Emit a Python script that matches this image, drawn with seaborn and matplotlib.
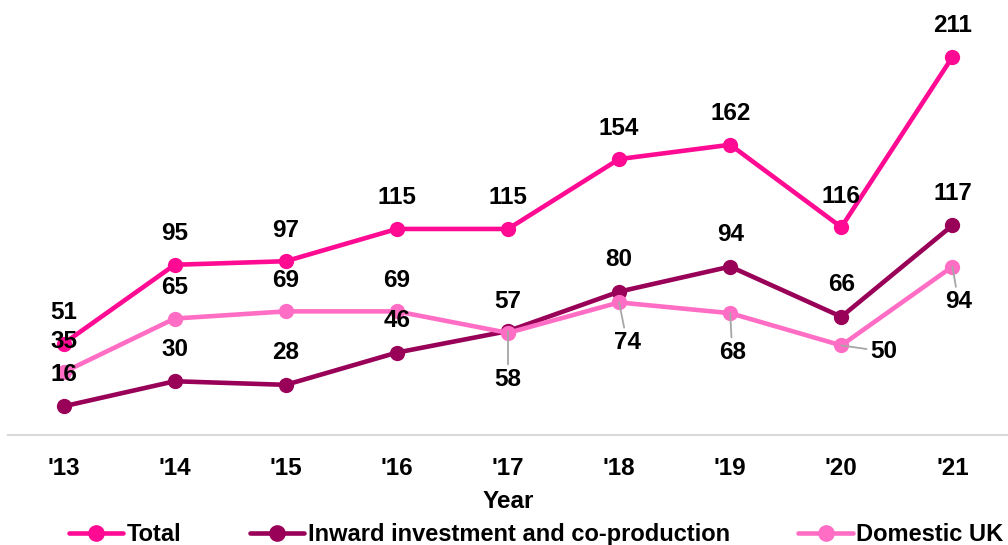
import pandas as pd
import matplotlib
matplotlib.use("Agg")
import matplotlib.pyplot as plt
import seaborn as sns

years = ["'13", "'14", "'15", "'16", "'17", "'18", "'19", "'20", "'21"]
total = [51, 95, 97, 115, 115, 154, 162, 116, 211]
inward = [16, 30, 28, 46, 58, 80, 94, 66, 117]
domestic = [35, 65, 69, 69, 57, 74, 68, 50, 94]

series_names = ["Total", "Inward investment and co-production", "Domestic UK"]
colors = {"Total": "#FF0A93", "Inward investment and co-production": "#990057",
          "Domestic UK": "#FF6EC4"}

# where each value label sits (pixel offsets from the point), and whether it gets a leader line
label_pos = {
    "Total": [(0, 31, False)] * 9,
    "Inward investment and co-production": [(0, 32, False)] * 4 + [(0, -48, True)] + [(0, 32, False)] * 4,
    "Domestic UK": [(0, 31, False)] * 5 + [(8, -40, True), (2, -39, True), (42, -6, True), (6, -35, True)],
}

rows = []
for name, vals in zip(series_names, [total, inward, domestic]):
    for i, (yr, v) in enumerate(zip(years, vals)):
        rows.append({"x": i, "Year": yr, "value": v, "series": name})
df = pd.DataFrame(rows)

sns.set_style("white")
plt.rcParams["font.family"] = ["Liberation Sans", "DejaVu Sans"]
plt.rcParams["font.weight"] = "bold"
plt.rcParams["text.color"] = "black"
plt.rcParams["axes.labelcolor"] = "black"
plt.rcParams["xtick.color"] = "black"

fig = plt.figure(figsize=(10.08, 5.45), dpi=100)
ax = fig.add_axes([8 / 1008, 110 / 545, 1000 / 1008, 430 / 545])

sns.lineplot(data=df, x="x", y="value", hue="series", hue_order=series_names,
             palette=colors, marker="o", markersize=11, markeredgewidth=0,
             linewidth=3.3, legend=False, ax=ax)

for name in series_names:
    sub = df[df["series"] == name]
    for (_, r), (dx, dy, leader) in zip(sub.iterrows(), label_pos[name]):
        kw = {}
        if leader:
            kw["arrowprops"] = dict(arrowstyle="-", color="#A6A6A6", lw=1.3,
                                    shrinkA=0, shrinkB=0)
        ax.annotate(str(r["value"]), (r["x"], r["value"]), xytext=(dx, dy),
                    textcoords="offset pixels", ha="center", va="center",
                    fontsize=17.5, fontweight="bold", color="black", **kw)

ax.set_xlim(-0.5, 8.5)
ax.set_ylim(0, 240)
ax.set_xticks(range(len(years)))
ax.set_xticklabels(years, fontsize=17.5, fontweight="bold", color="black")
ax.set_yticks([])
ax.set_ylabel("")
ax.set_xlabel("Year", fontsize=17.5, fontweight="bold", labelpad=7, color="black")
ax.tick_params(axis="x", length=0, pad=16)
for s in ["top", "right", "left"]:
    ax.spines[s].set_visible(False)
ax.spines["bottom"].set_color("#D9D9D9")
ax.spines["bottom"].set_linewidth(1.5)

handles = [plt.Line2D([], [], color=colors[n], marker="o", markersize=11, lw=3.3)
           for n in series_names]
leg = fig.legend(handles, series_names, loc="center", bbox_to_anchor=(0.532, 0.019),
                 ncol=3, frameon=False, handlelength=2.3, handletextpad=0.15,
                 columnspacing=2.9, borderpad=0, prop={"weight": "bold", "size": 17})
for t in leg.get_texts():
    t.set_color("black")

fig.savefig("out.png", dpi=100)
